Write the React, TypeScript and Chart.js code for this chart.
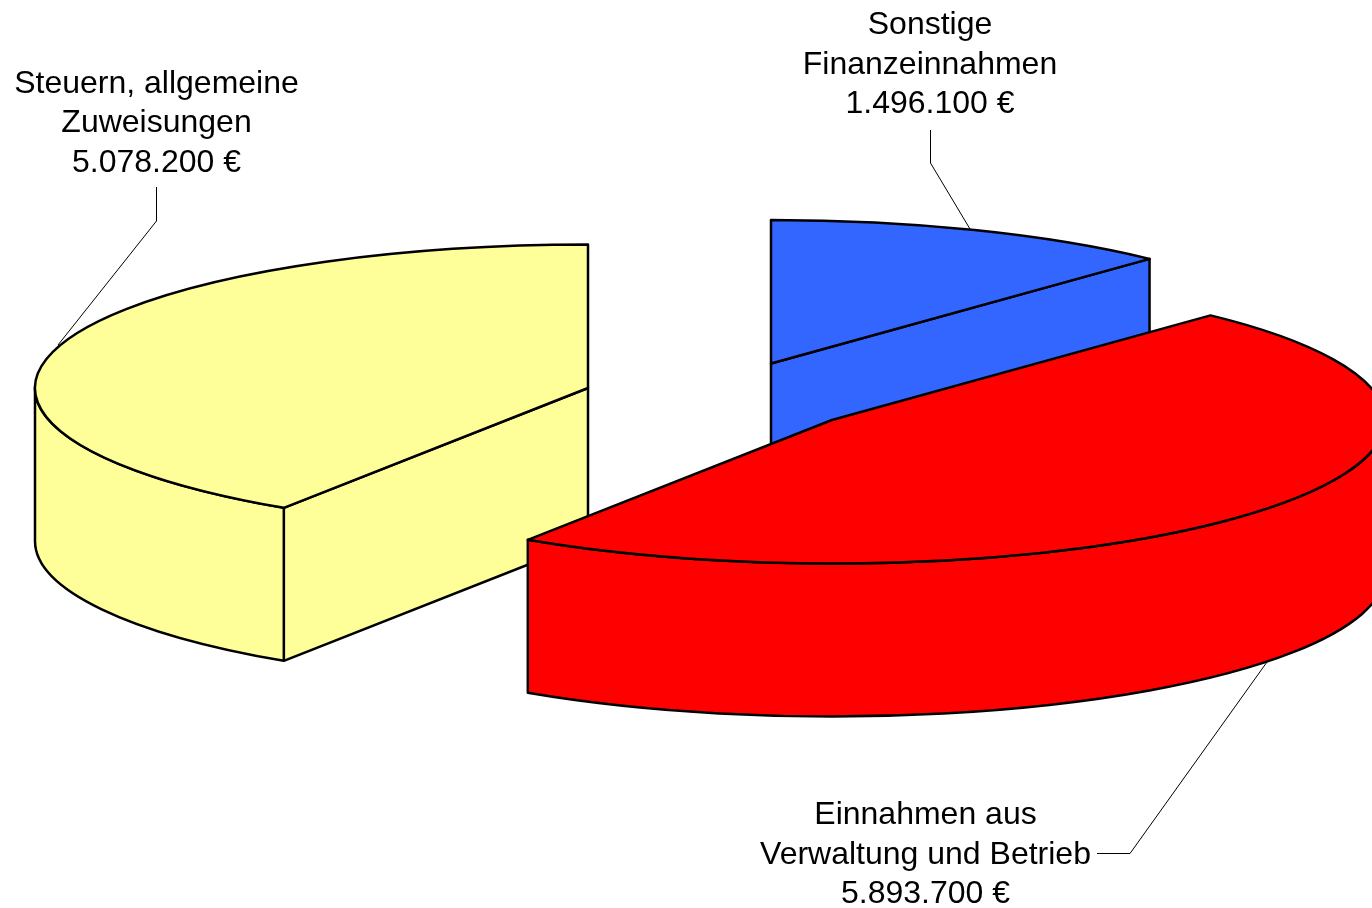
import React, { useEffect, useRef } from "react";
import { Chart, registerables } from "chart.js";

Chart.register(...registerables);

const categories = ["Sonstige Finanzeinnahmen", "Einnahmen aus Verwaltung und Betrieb", "Steuern, allgemeine Zuweisungen"];
const values = [1496100, 5893700, 5078200];
const colors = ["#3366FF", "#FF0000", "#FFFF99"];
const labelLines = [["Sonstige", "Finanzeinnahmen"], ["Einnahmen aus", "Verwaltung und Betrieb"], ["Steuern, allgemeine", "Zuweisungen"]];

// Layout of the projected, exploded pie
const RADIUS = 553;
const SQUASH = 143.5 / 553;
const DEPTH = 153;
const sliceCenters = [[771, 363.5], [832, 420], [588, 388]];
const paintOrder = [0, 2, 1];
const labelAnchors = [[930, 34], [925.5, 824], [156.5, 92.6]];
const leaders = [
  [[930.5, 130], [930.5, 163], [970, 229]],
  [[1097, 853.5], [1130, 853.5], [1267, 662]],
  [[156.5, 187], [156.5, 221], [58, 345]],
];
const LINE_HEIGHT = 39.6;

const formatEuro = (v: number) => v.toString().replace(/\B(?=(\d{3})+(?!\d))/g, ".") + " €";

const pie3d = {
  id: "pie3d",
  beforeDatasetDraw(chart: any, args: any) {
    const ctx = chart.ctx;
    const arcs = args.meta.data;
    ctx.save();
    ctx.lineJoin = "round";
    ctx.lineWidth = 2.5;
    ctx.strokeStyle = "#000";
    for (const i of paintOrder) {
      const el = arcs[i];
      const { x, y, startAngle, endAngle, outerRadius } = el.getProps(["x", "y", "startAngle", "endAngle", "outerRadius"], true);
      const [cx, cy] = sliceCenters[i];
      const rx = outerRadius;
      const ry = outerRadius * SQUASH;
      ctx.fillStyle = el.options.backgroundColor;

      // radial walls facing the viewer
      const edges = [
        { a: startAngle, show: -Math.cos(startAngle) > 1e-6 },
        { a: endAngle, show: Math.cos(endAngle) > 1e-6 },
      ];
      for (const { a, show } of edges) {
        if (!show) continue;
        const px = cx + rx * Math.cos(a);
        const py = cy + ry * Math.sin(a);
        ctx.beginPath();
        ctx.moveTo(cx, cy);
        ctx.lineTo(px, py);
        ctx.lineTo(px, py + DEPTH);
        ctx.lineTo(cx, cy + DEPTH);
        ctx.closePath();
        ctx.fill();
        ctx.stroke();
      }

      // outer wall: the part of the rim on the near half of the ellipse
      const s = Math.max(startAngle, 0);
      const e = Math.min(endAngle, Math.PI);
      if (e > s) {
        ctx.beginPath();
        ctx.ellipse(cx, cy, rx, ry, 0, s, e);
        ctx.ellipse(cx, cy + DEPTH, rx, ry, 0, e, s, true);
        ctx.closePath();
        ctx.fill();
        ctx.stroke();
      }

      // top face: the library's own arc element, squashed onto the ellipse
      ctx.save();
      ctx.translate(cx, cy);
      ctx.scale(1, SQUASH);
      ctx.translate(-x, -y);
      el.draw(ctx);
      ctx.restore();

      ctx.beginPath();
      ctx.moveTo(cx, cy);
      ctx.ellipse(cx, cy, rx, ry, 0, startAngle, endAngle);
      ctx.closePath();
      ctx.stroke();
    }
    ctx.restore();
    return false;
  },
  afterDraw(chart: any) {
    const ctx = chart.ctx;
    ctx.save();
    ctx.strokeStyle = "#000";
    ctx.lineWidth = 1;
    for (const pts of leaders) {
      ctx.beginPath();
      pts.forEach(([px, py], n) => (n ? ctx.lineTo(px, py) : ctx.moveTo(px, py)));
      ctx.stroke();
    }
    ctx.fillStyle = "#000";
    ctx.font = '32px "Liberation Sans", Arial, sans-serif';
    ctx.textAlign = "center";
    ctx.textBaseline = "alphabetic";
    values.forEach((v, i) => {
      const [ax, ay] = labelAnchors[i];
      [...labelLines[i], formatEuro(v)].forEach((line, n) => ctx.fillText(line, ax, ay + n * LINE_HEIGHT));
    });
    ctx.restore();
  },
};

export default function App() {
  const ref = useRef<HTMLCanvasElement>(null);
  useEffect(() => {
    document.body.style.margin = "0";
    document.body.style.background = "#fff";
    const chart = new Chart(ref.current as HTMLCanvasElement, {
      type: "pie",
      data: {
        labels: categories,
        datasets: [{ data: values, backgroundColor: colors, borderWidth: 0 }],
      },
      options: {
        responsive: false,
        animation: false,
        events: [],
        radius: RADIUS,
        layout: { padding: 0 },
        plugins: { legend: { display: false }, tooltip: { enabled: false }, title: { display: false } },
      },
      plugins: [pie3d],
    } as any);
    return () => chart.destroy();
  }, []);
  return (
    <canvas
      ref={ref}
      width={1372}
      height={908}
      style={{ position: "absolute", left: 0, top: 0, width: 1372, height: 908, display: "block" }}
    />
  );
}
